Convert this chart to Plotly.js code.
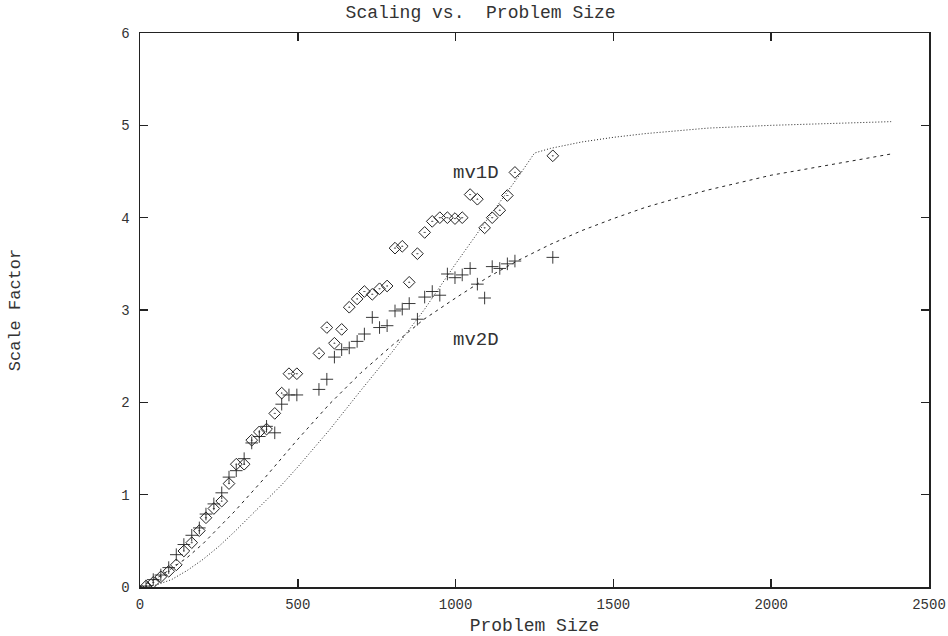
<!DOCTYPE html>
<html>
<head>
<meta charset="utf-8">
<script src="https://cdn.plot.ly/plotly-3.0.1.min.js"></script>
<style>
  html, body { margin: 0; padding: 0; background: #fff; }
  #chart { width: 948px; height: 636px; }
</style>
</head>
<body>
<div id="chart"></div>
<script>
// Problem sizes at which both variants were measured
const problemSize = [19, 42, 66, 91, 115, 139, 164, 188, 209, 234, 259, 282, 305, 330, 354, 378,
  401, 427, 449, 472, 497, 567, 592, 616, 639, 663, 688, 711, 736, 759, 783, 808, 831, 853, 879,
  902, 926, 950, 974, 998, 1021, 1046, 1069, 1092, 1116, 1140, 1164, 1188, 1308];

// Measured scale factors, 1D decomposition (diamonds)
const mv1DMeasured = [0.01, 0.05, 0.11, 0.17, 0.24, 0.39, 0.48, 0.61, 0.75, 0.85, 0.93, 1.12, 1.33,
  1.33, 1.59, 1.68, 1.71, 1.88, 2.10, 2.31, 2.31, 2.53, 2.81, 2.64, 2.79, 3.03, 3.12, 3.20, 3.17,
  3.23, 3.26, 3.67, 3.69, 3.30, 3.61, 3.84, 3.96, 4.00, 4.00, 3.99, 4.00, 4.25, 4.20, 3.89, 4.00,
  4.08, 4.24, 4.49, 4.67];

// Measured scale factors, 2D decomposition (plus signs)
const mv2DMeasured = [0.01, 0.08, 0.13, 0.21, 0.35, 0.46, 0.56, 0.64, 0.79, 0.90, 1.02, 1.19, 1.26,
  1.39, 1.56, 1.63, 1.74, 1.67, 1.98, 2.08, 2.08, 2.14, 2.25, 2.49, 2.57, 2.59, 2.66, 2.74, 2.92,
  2.81, 2.83, 2.99, 3.01, 3.07, 2.90, 3.14, 3.20, 3.16, 3.39, 3.35, 3.38, 3.45, 3.28, 3.13, 3.47,
  3.45, 3.50, 3.53, 3.57];

// Model curve for the 1D decomposition (dotted)
const mv1DModelSize = [0, 50, 100, 150, 200, 250, 300, 350, 400, 450, 500, 600, 700, 800, 900, 1000,
  1100, 1200, 1250, 1300, 1400, 1500, 1600, 1800, 2000, 2200, 2380];
const mv1DModel = [0, 0.02, 0.08, 0.18, 0.30, 0.44, 0.60, 0.77, 0.94, 1.11, 1.30, 1.70, 2.13, 2.55,
  3.00, 3.50, 3.98, 4.45, 4.70, 4.75, 4.82, 4.87, 4.91, 4.97, 5.00, 5.02, 5.04];

// Model curve for the 2D decomposition (dashed)
const mv2DModelSize = [0, 50, 100, 150, 200, 250, 300, 400, 500, 600, 700, 800, 900, 1000, 1100, 1200,
  1300, 1400, 1500, 1600, 1700, 1800, 1900, 2000, 2100, 2200, 2300, 2380];
const mv2DModel = [0, 0.09, 0.20, 0.32, 0.47, 0.64, 0.82, 1.20, 1.60, 1.98, 2.32, 2.62, 2.90, 3.13,
  3.35, 3.54, 3.71, 3.86, 3.99, 4.11, 4.21, 4.30, 4.38, 4.46, 4.52, 4.58, 4.64, 4.69];

const xTicks = [0, 500, 1000, 1500, 2000, 2500];
const yTicks = [0, 1, 2, 3, 4, 5, 6];

const mono = 'Liberation Mono, Courier New, monospace';
const ink = '#222';
const textInk = '#333';

const traces = [
  {
    x: mv1DModelSize, y: mv1DModel, mode: 'lines', type: 'scatter',
    line: { color: ink, width: 1, dash: '1px,2px' }, hoverinfo: 'skip'
  },
  {
    x: mv2DModelSize, y: mv2DModel, mode: 'lines', type: 'scatter',
    line: { color: ink, width: 1, dash: '3px,4px' }, hoverinfo: 'skip'
  },
  {
    x: problemSize, y: mv1DMeasured, mode: 'markers', type: 'scatter',
    marker: { symbol: 'diamond-open-dot', size: 9, color: ink, line: { width: 1, color: ink } }
  },
  {
    x: problemSize, y: mv2DMeasured, mode: 'markers', type: 'scatter',
    marker: { symbol: 'cross-thin-open', size: 9, color: ink, line: { width: 0.9, color: ink } }
  }
];

const axisCommon = {
  showgrid: false, zeroline: false, showline: true, mirror: 'allticks',
  linecolor: ink, linewidth: 1.5, ticks: 'inside', ticklen: 8, tickwidth: 1.5, tickcolor: ink,
  tickfont: { family: mono, size: 14, color: textInk }
};

const layout = {
  width: 948, height: 636,
  margin: { l: 140, r: 19, t: 33, b: 49 },
  paper_bgcolor: '#fff', plot_bgcolor: '#fff',
  showlegend: false,
  font: { family: mono, color: textInk },
  title: { text: 'Scaling vs.  Problem Size', font: { family: mono, size: 18, color: textInk },
           x: 0.507, xanchor: 'center', y: 0.982, yanchor: 'middle' },
  xaxis: Object.assign({}, axisCommon, {
    range: [0, 2500], tickvals: xTicks, ticktext: xTicks.map(String), ticklabelstandoff: 4,
    title: { text: 'Problem Size', font: { family: mono, size: 18, color: textInk }, standoff: 6 }
  }),
  yaxis: Object.assign({}, axisCommon, {
    range: [0, 6], tickvals: yTicks, ticktext: yTicks.map(String), ticklabelstandoff: 6,
    title: { text: 'Scale Factor', font: { family: mono, size: 17, color: textInk }, standoff: 96 }
  }),
  annotations: [
    { x: 1065, y: 4.48, xref: 'x', yref: 'y', text: 'mv1D', showarrow: false,
      font: { family: mono, size: 19, color: textInk } },
    { x: 1065, y: 2.67, xref: 'x', yref: 'y', text: 'mv2D', showarrow: false,
      font: { family: mono, size: 19, color: textInk } }
  ]
};

Plotly.newPlot('chart', traces, layout, { staticPlot: true, displayModeBar: false });
</script>
</body>
</html>
